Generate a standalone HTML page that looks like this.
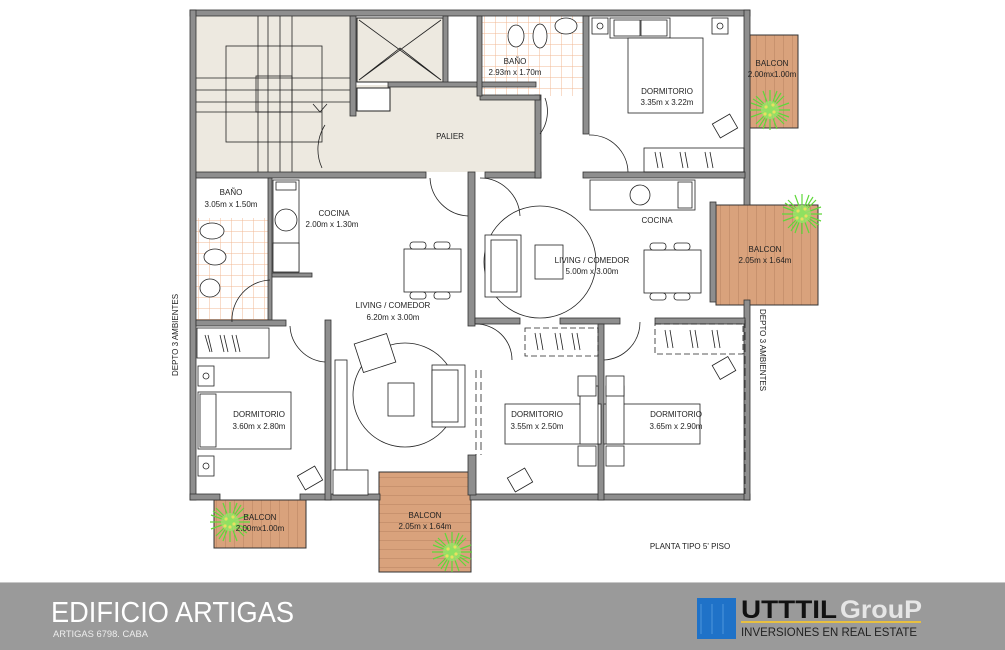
<!DOCTYPE html>
<html><head><meta charset="utf-8"><style>
html,body{margin:0;padding:0;background:#fff;}
svg{display:block;}
text{font-family:"Liberation Sans",sans-serif;fill:#222;}
.l{font-size:8px;text-anchor:middle;}
</style></head><body>
<svg width="1005" height="650" viewBox="0 0 1005 650" xmlns="http://www.w3.org/2000/svg">
<defs>
<pattern id="tile" width="11" height="11" patternUnits="userSpaceOnUse">
<rect width="11" height="11" fill="#fff"/>
<path d="M0 0H11M0 0V11" stroke="#f0b894" stroke-width="1"/>
</pattern>
<pattern id="wood" width="9" height="9" patternUnits="userSpaceOnUse">
<rect width="9" height="9" fill="#d9a27c"/>
<path d="M0 0V9" stroke="#b07a58" stroke-width="0.8"/>
</pattern>
<pattern id="woodh" width="9" height="9" patternUnits="userSpaceOnUse">
<rect width="9" height="9" fill="#d9a27c"/>
<path d="M0 0H9" stroke="#b07a58" stroke-width="0.8"/>
</pattern>
<g id="plant">
<path d="M-20 0H20M0 -20V20M-14 -14L14 14M-14 14L14 -14M-19 -7L19 7M-19 7L19 -7M-7 -19L7 19M7 -19L-7 19M-17 -11L17 11M-11 17L11 -17" stroke="#5fd83a" stroke-width="1.2"/>
<circle r="9" fill="#9be46a" opacity="0.8"/>
<circle cx="-4" cy="-3" r="1.6" fill="#e8e060"/><circle cx="4" cy="2" r="1.6" fill="#e8e060"/><circle cx="0" cy="5" r="1.6" fill="#e8e060"/><circle cx="3" cy="-5" r="1.6" fill="#e8e060"/><circle cx="-5" cy="4" r="1.6" fill="#e8e060"/>
</g>
</defs>

<rect x="196" y="16" width="156" height="156" fill="#ede9e0"/>
<rect x="352" y="85" width="186" height="87" fill="#ede9e0"/>
<rect x="357" y="18" width="86" height="64" fill="#ede9e0" stroke="#222"/>
<path d="M359 80L400 48L441 80M359 20L441 80M441 20L359 80" stroke="#222" fill="none" stroke-width="0.8"/>
<rect x="357" y="88" width="33" height="23" fill="#fff" stroke="#222"/>
<g stroke="#222" stroke-width="0.8" fill="none">
<rect x="226" y="46" width="96" height="96"/>
<rect x="256" y="76" width="36" height="36"/>
<path d="M258 16V172M268 16V172M280 16V172M292 16V172M196 78H352M196 90H352M196 102H352M196 112H322"/>
<path d="M313 104L320 112L327 104"/>
</g>

<rect x="480" y="16" width="104" height="80" fill="url(#tile)"/>
<rect x="196" y="218" width="72" height="102" fill="url(#tile)"/>
<rect x="750" y="35" width="48" height="93" fill="url(#wood)" stroke="#333"/>
<rect x="716" y="205" width="102" height="100" fill="url(#wood)" stroke="#333"/>
<rect x="214" y="500" width="92" height="48" fill="url(#wood)" stroke="#333"/>
<rect x="379" y="472" width="92" height="100" fill="url(#woodh)" stroke="#333"/>

<g fill="#8e8e8e" stroke="#333" stroke-width="0.8">
<rect x="190" y="10" width="560" height="6"/>
<rect x="190" y="10" width="6" height="490"/>
<rect x="190" y="494" width="30" height="6"/>
<rect x="300" y="494" width="80" height="6"/>
<rect x="470" y="494" width="280" height="6"/>
<rect x="744" y="10" width="6" height="195"/>
<rect x="744" y="300" width="6" height="200"/>
<rect x="710" y="202" width="6" height="100"/>
<rect x="350" y="16" width="6" height="100"/>
<rect x="443" y="16" width="5" height="70"/>
<rect x="388" y="82" width="148" height="5"/>
<rect x="196" y="172" width="230" height="6"/>
<rect x="485" y="172" width="56" height="6"/>
<rect x="535" y="95" width="6" height="83"/>
<rect x="480" y="95" width="60" height="5"/>
<rect x="477" y="16" width="5" height="80"/>
<rect x="583" y="16" width="6" height="118"/>
<rect x="583" y="172" width="162" height="6"/>
<rect x="468" y="172" width="7" height="154"/>
<rect x="268" y="178" width="4" height="142"/>
<rect x="272" y="273" width="40" height="4"/>
<rect x="196" y="320" width="90" height="6"/>
<rect x="325" y="320" width="6" height="180"/>
<rect x="475" y="318" width="45" height="6"/>
<rect x="560" y="318" width="60" height="6"/>
<rect x="655" y="318" width="90" height="6"/>
<rect x="598" y="324" width="6" height="176"/>
<rect x="468" y="455" width="8" height="40"/>
</g>
<g fill="#fff" stroke="#222" stroke-width="0.8">
<rect x="273" y="180" width="26" height="92"/>
<rect x="276" y="182" width="20" height="8"/>
<circle cx="286" cy="220" r="11"/>
<rect x="273" y="243" width="26" height="29"/>
<rect x="590" y="180" width="105" height="30"/>
<circle cx="640" cy="195" r="10"/>
<rect x="678" y="182" width="14" height="26"/>
</g>
<g stroke="#222" stroke-width="0.8" fill="none">
<path d="M325 125A45 45 0 0 0 322 168"/>
<path d="M430 178A40 40 0 0 0 468 216"/>
<path d="M480 178A40 40 0 0 1 520 216"/>
<path d="M545 98A38 38 0 0 1 540 134" />
<path d="M589 135A38 38 0 0 1 628 172"/>
<path d="M232 322A40 40 0 0 1 270 280"/>
<path d="M290 326A38 38 0 0 0 325 362"/>
<path d="M475 324A36 36 0 0 1 512 360"/>
<path d="M604 360A38 38 0 0 0 640 322"/>
<path d="M476 370V455M481 370V455" stroke-dasharray="8 4"/>
<path d="M745 320V494" stroke-dasharray="8 4"/>
<path d="M205 335L210 352M208 335L212 352M220 335L224 352M224 335L228 352M232 335L236 352M236 335L240 352"/>
<path d="M535 333L538 350M540 333L543 350M555 333L558 350M560 333L563 350M572 333L575 350M577 333L580 350"/>
<path d="M665 330L668 348M670 330L673 348M690 330L693 348M695 330L698 348M712 330L715 348M717 330L720 348"/>
<path d="M655 152L658 168M660 152L663 168M680 152L683 168M685 152L688 168M705 152L708 168M710 152L713 168"/>
</g>
<g stroke="#222" stroke-width="0.8" fill="#fff">
<circle cx="405" cy="395" r="52"/>
<circle cx="540" cy="262" r="56" fill="none"/>
<rect x="404" y="249" width="57" height="43"/>
<rect x="410" y="242" width="16" height="7" rx="3"/><rect x="434" y="242" width="16" height="7" rx="3"/>
<rect x="410" y="292" width="16" height="7" rx="3"/><rect x="434" y="292" width="16" height="7" rx="3"/>
<rect x="644" y="250" width="57" height="43"/>
<rect x="650" y="243" width="16" height="7" rx="3"/><rect x="674" y="243" width="16" height="7" rx="3"/>
<rect x="650" y="293" width="16" height="7" rx="3"/><rect x="674" y="293" width="16" height="7" rx="3"/>
<rect x="535" y="245" width="28" height="34"/>
<rect x="485" y="235" width="36" height="62"/><rect x="491" y="240" width="26" height="52"/>
<rect x="388" y="383" width="26" height="33"/>
<rect x="432" y="365" width="33" height="62"/><rect x="432" y="370" width="26" height="52"/>
<rect x="358" y="338" width="34" height="30" transform="rotate(-18 375 353)"/>
<rect x="335" y="360" width="12" height="110"/>
<rect x="333" y="470" width="35" height="25"/>
<rect x="198" y="392" width="93" height="57"/>
<rect x="200" y="394" width="16" height="53"/>
<rect x="198" y="366" width="16" height="20"/><circle cx="206" cy="376" r="3"/>
<rect x="198" y="456" width="16" height="20"/><circle cx="206" cy="466" r="3"/>
<rect x="505" y="404" width="96" height="40"/>
<rect x="604" y="404" width="96" height="40"/>
<rect x="580" y="386" width="18" height="58"/><rect x="606" y="386" width="18" height="58"/>
<rect x="578" y="376" width="18" height="20"/><rect x="606" y="376" width="18" height="20"/>
<rect x="578" y="446" width="18" height="20"/><rect x="606" y="446" width="18" height="20"/>
<rect x="610" y="18" width="60" height="20"/>
<rect x="614" y="20" width="26" height="16"/><rect x="641" y="20" width="26" height="16"/>
<rect x="628" y="38" width="75" height="75"/>
<rect x="592" y="18" width="16" height="16"/><circle cx="600" cy="26" r="3"/>
<rect x="712" y="18" width="16" height="16"/><circle cx="720" cy="26" r="3"/>
<rect x="644" y="148" width="100" height="24" fill="none"/>
<rect x="197" y="328" width="72" height="30" fill="none"/>
<rect x="525" y="328" width="73" height="28" stroke-dasharray="6 3" fill="none"/>
<rect x="655" y="324" width="88" height="30" stroke-dasharray="6 3" fill="none"/>
<rect x="715" y="118" width="20" height="16" transform="rotate(-30 725 126)"/>
<rect x="715" y="360" width="18" height="16" transform="rotate(-30 724 368)"/>
<rect x="300" y="470" width="20" height="16" transform="rotate(-30 310 478)"/>
<rect x="510" y="472" width="20" height="16" transform="rotate(-30 520 480)"/>
<ellipse cx="516" cy="36" rx="8" ry="11"/><ellipse cx="540" cy="36" rx="7" ry="12"/><ellipse cx="566" cy="26" rx="11" ry="8"/>
<ellipse cx="212" cy="231" rx="12" ry="8"/><ellipse cx="215" cy="257" rx="11" ry="8"/><ellipse cx="210" cy="288" rx="10" ry="9"/>
</g>
<use href="#plant" x="770" y="110"/>
<use href="#plant" x="802" y="214"/>
<use href="#plant" x="230" y="522"/>
<use href="#plant" x="452" y="552"/>

<text class="l" x="515" y="64">BAÑO</text><text class="l" x="515" y="75">2.93m x 1.70m</text>
<text class="l" x="772" y="66">BALCON</text><text class="l" x="772" y="77">2.00mx1.00m</text>
<text class="l" x="667" y="94">DORMITORIO</text><text class="l" x="667" y="105">3.35m x 3.22m</text>
<text class="l" x="450" y="139">PALIER</text>
<text class="l" x="231" y="195">BAÑO</text><text class="l" x="231" y="207">3.05m x 1.50m</text>
<text class="l" x="334" y="216">COCINA</text><text class="l" x="332" y="227">2.00m x 1.30m</text>
<text class="l" x="657" y="223">COCINA</text>
<text class="l" x="592" y="263">LIVING / COMEDOR</text><text class="l" x="592" y="274">5.00m x 3.00m</text>
<text class="l" x="765" y="252">BALCON</text><text class="l" x="765" y="263">2.05m x 1.64m</text>
<text class="l" x="393" y="308">LIVING / COMEDOR</text><text class="l" x="393" y="320">6.20m x 3.00m</text>
<text class="l" x="259" y="417">DORMITORIO</text><text class="l" x="259" y="429">3.60m x 2.80m</text>
<text class="l" x="537" y="417">DORMITORIO</text><text class="l" x="537" y="429">3.55m x 2.50m</text>
<text class="l" x="676" y="417">DORMITORIO</text><text class="l" x="676" y="429">3.65m x 2.90m</text>
<text class="l" x="260" y="520">BALCON</text><text class="l" x="260" y="531">2.00mx1.00m</text>
<text class="l" x="425" y="518">BALCON</text><text class="l" x="425" y="529">2.05m x 1.64m</text>
<text class="l" x="690" y="549">PLANTA TIPO 5' PISO</text>
<text class="l" transform="translate(178 335) rotate(-90)">DEPTO 3 AMBIENTES</text>
<text class="l" transform="translate(760 350) rotate(90)">DEPTO 3 AMBIENTES</text>

<rect x="0" y="582" width="1005" height="68" fill="#9a9a9a"/>
<rect x="0" y="582" width="1005" height="1" fill="#c8c8c8"/>
<text x="51" y="622" style="font-size:29px;fill:#fff;font-weight:300" textLength="243" lengthAdjust="spacingAndGlyphs">EDIFICIO ARTIGAS</text>
<text x="53" y="637" style="font-size:9px;fill:#eee" textLength="95" lengthAdjust="spacingAndGlyphs">ARTIGAS 6798. CABA</text>
<rect x="697" y="598" width="39" height="41" fill="#1f72c8"/>
<path d="M701 604V634M712 604V634M723 604V634" stroke="#4d95dc" stroke-width="1"/>
<text x="741" y="618" style="font-size:25px;font-weight:bold;fill:#111" textLength="96" lengthAdjust="spacingAndGlyphs">UTTTIL</text>
<text x="840" y="618" style="font-size:25px;font-weight:bold;fill:#e6e6e6" textLength="82" lengthAdjust="spacingAndGlyphs">GrouP</text>
<rect x="741" y="621" width="180" height="2" fill="#e8c040"/>
<text x="741" y="636" style="font-size:12px;fill:#222" textLength="176" lengthAdjust="spacingAndGlyphs">INVERSIONES EN REAL ESTATE</text>
</svg>
</body></html>
